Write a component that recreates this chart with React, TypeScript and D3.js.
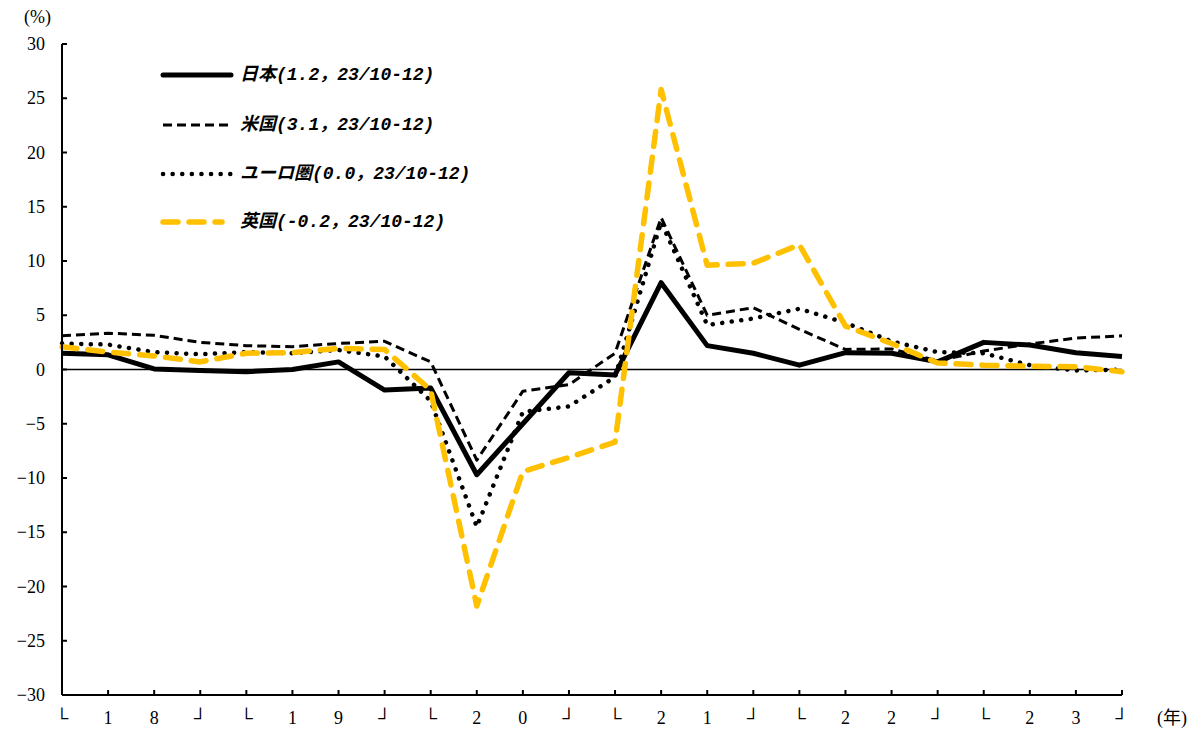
import React from "react";
import * as d3 from "d3";

// Quarterly real GDP growth (year-on-year, %), 2018 Q1 – 2023 Q4
const quarters = d3.range(24);
const japan = [1.5, 1.35, 0.05, -0.1, -0.2, 0.0, 0.7, -1.9, -1.7, -9.7, -5.0, -0.3, -0.5, 8.0, 2.2, 1.5, 0.4, 1.55, 1.5, 0.7, 2.5, 2.25, 1.55, 1.2];
const us = [3.1, 3.35, 3.15, 2.5, 2.2, 2.1, 2.4, 2.6, 0.7, -8.35, -2.0, -1.4, 1.5, 14.0, 5.0, 5.7, 3.7, 1.85, 1.9, 0.8, 1.7, 2.35, 2.9, 3.1];
const euro = [2.4, 2.3, 1.6, 1.4, 1.6, 1.5, 1.8, 1.2, -2.9, -14.5, -3.9, -3.4, -0.7, 13.6, 4.1, 4.7, 5.6, 4.3, 2.6, 1.6, 1.5, 0.4, -0.1, 0.0];
const uk = [2.1, 1.6, 1.25, 0.7, 1.5, 1.55, 1.95, 1.85, -1.9, -21.8, -9.4, -8.1, -6.7, 25.8, 9.6, 9.8, 11.5, 4.0, 2.4, 0.6, 0.4, 0.3, 0.25, -0.2];

const yTicks = [30, 25, 20, 15, 10, 5, 0, -5, -10, -15, -20, -25, -30];
const xLabels = ["└", "1", "8", "┘", "└", "1", "9", "┘", "└", "2", "0", "┘", "└", "2", "1", "┘", "└", "2", "2", "┘", "└", "2", "3", "┘"];

const legendLabels = [
  "日本(1.2，23/10-12)",
  "米国(3.1，23/10-12)",
  "ユーロ圏(0.0，23/10-12)",
  "英国(-0.2，23/10-12)",
];

const GOLD = "#FFC000";

const seriesStyles = [
  { data: japan, stroke: "#000", width: 5, dash: undefined as string | undefined, cap: "butt" },
  { data: us, stroke: "#000", width: 3, dash: "9,5", cap: "butt" },
  { data: euro, stroke: "#000", width: 4.5, dash: "0.1,9.5", cap: "round" },
  { data: uk, stroke: GOLD, width: 5.5, dash: "15,11", cap: "round" },
];

export default function App() {
  const width = 1196;
  const height = 731;
  const x = d3.scaleLinear().domain([0, 23]).range([62, 1122]);
  const y = d3.scaleLinear().domain([-30, 30]).range([695, 44]);
  const line = d3
    .line<number>()
    .x((_, i) => x(quarters[i]))
    .y((d) => y(d));

  const labelFont = "'Liberation Serif', 'DejaVu Serif', 'Noto Sans CJK JP', serif";
  const legendFont = "'Liberation Mono', 'Noto Sans CJK JP', monospace";

  return (
    <svg
      width={width}
      height={height}
      style={{ position: "absolute", left: 0, top: 0, background: "#fff" }}
    >
      {/* zero line */}
      <line x1={x(0)} x2={x(23)} y1={y(0)} y2={y(0)} stroke="#000" strokeWidth={1.6} />

      {/* series */}
      {seriesStyles.map((s, k) => (
        <path
          key={k}
          d={line(s.data) || ""}
          fill="none"
          stroke={s.stroke}
          strokeWidth={s.width}
          strokeDasharray={s.dash}
          strokeLinecap={s.cap as any}
          strokeLinejoin="round"
        />
      ))}

      {/* y axis */}
      <line x1={x(0)} x2={x(0)} y1={y(30)} y2={y(-30)} stroke="#000" strokeWidth={2} />
      {yTicks.map((t) => (
        <g key={t}>
          <line x1={x(0)} x2={x(0) + 5} y1={y(t)} y2={y(t)} stroke="#000" strokeWidth={2} />
          <text
            x={45}
            y={y(t)}
            textAnchor="end"
            dominantBaseline="central"
            fontFamily={labelFont}
            fontSize={18}
            fill="#000"
          >
            {t < 0 ? "\u2212" + Math.abs(t) : t}
          </text>
        </g>
      ))}
      <text x={24} y={17} fontFamily={labelFont} fontSize={18} dominantBaseline="central">
        (%)
      </text>

      {/* x axis */}
      <line x1={x(0)} x2={x(23)} y1={y(-30)} y2={y(-30)} stroke="#000" strokeWidth={2} />
      {quarters.slice(1).map((q) => (
        <line key={q} x1={x(q)} x2={x(q)} y1={y(-30)} y2={y(-30) - 5} stroke="#000" strokeWidth={2} />
      ))}
      {xLabels.map((l, i) => (
        <text
          key={i}
          x={x(quarters[i])}
          y={718}
          textAnchor="middle"
          dominantBaseline="central"
          fontFamily={labelFont}
          fontSize={18}
        >
          {l}
        </text>
      ))}
      <text x={1172} y={718} textAnchor="middle" dominantBaseline="central" fontFamily={labelFont} fontSize={18}>
        (年)
      </text>

      {/* legend */}
      {seriesStyles.map((s, k) => {
        const ly = [75, 125, 174, 222][k];
        return (
          <g key={k}>
            <line
              x1={163}
              x2={s.stroke === GOLD ? 222 : 231}
              y1={ly}
              y2={ly}
              stroke={s.stroke}
              strokeWidth={s.width}
              strokeDasharray={s.dash}
              strokeLinecap={k === 0 ? "round" : (s.cap as any)}
            />
            <text
              x={240}
              y={ly}
              dominantBaseline="central"
              fontFamily={legendFont}
              fontStyle="italic"
              fontWeight="bold"
              fontSize={18}
            >
              {legendLabels[k]}
            </text>
          </g>
        );
      })}
    </svg>
  );
}
